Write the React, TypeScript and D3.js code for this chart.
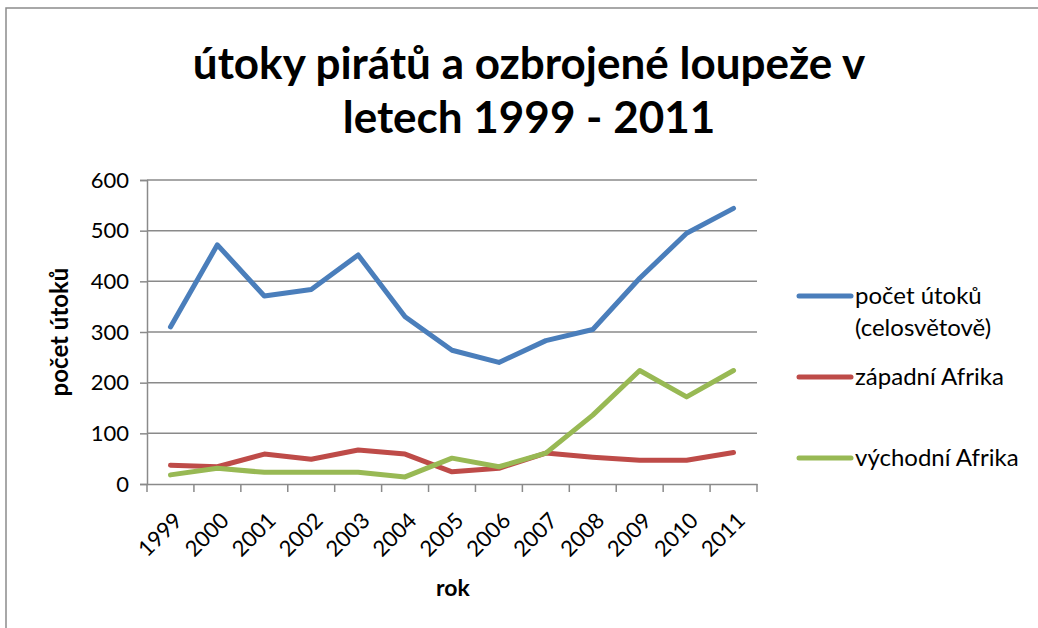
import React, { useEffect, useRef } from "react";
import * as d3 from "d3";

const years = ["1999", "2000", "2001", "2002", "2003", "2004", "2005", "2006", "2007", "2008", "2009", "2010", "2011"];
const utokyCelkem = [310, 472, 371, 384, 452, 330, 264, 240, 283, 305, 406, 495, 544];
const zapadniAfrika = [37, 34, 59, 49, 67, 59, 24, 31, 61, 53, 47, 47, 62];
const vychodniAfrika = [18, 31, 23, 23, 23, 14, 51, 34, 61, 136, 224, 172, 224];
const yTicks = [0, 100, 200, 300, 400, 500, 600];
const seriesNames = [["počet útoků", "(celosvětově)"], ["západní Afrika"], ["východní Afrika"]];
const seriesColors = ["#4a7ebb", "#be4b48", "#98b954"];

const font = "Lato, 'Open Sans', sans-serif";

export default function App() {
  const ref = useRef<SVGSVGElement>(null);
  const width = 1038;
  const height = 628;
  const left = 147;
  const right = 757;
  const top = 180;
  const bottom = 484;

  useEffect(() => {
    const svg = d3.select(ref.current);
    svg.selectAll("*").remove();

    const x = d3.scaleBand().domain(years).range([left, right]);
    const y = d3.scaleLinear().domain([0, 600]).range([bottom, top]);

    // frame
    svg.append("path")
      .attr("d", `M6,628 V8 H1038`)
      .attr("fill", "none")
      .attr("stroke", "#8c8c8c")
      .attr("stroke-width", 1.5);

    // title
    const title = svg.append("text")
      .attr("text-anchor", "middle")
      .attr("font-family", font)
      .attr("font-weight", "bold")
      .attr("font-size", 44)
      .attr("fill", "#000");
    title.append("tspan").attr("x", 529).attr("y", 79).text("útoky pirátů a ozbrojené loupeže v");
    title.append("tspan").attr("x", 529).attr("y", 133).text("letech 1999 - 2011");

    // grid
    svg.append("g")
      .selectAll("line")
      .data(yTicks.filter((d) => d > 0))
      .join("line")
      .attr("x1", left)
      .attr("x2", right)
      .attr("y1", (d) => y(d))
      .attr("y2", (d) => y(d))
      .attr("stroke", "#8a8a8a")
      .attr("stroke-width", 1.5);

    // y axis
    const yAxis = svg.append("g")
      .attr("transform", `translate(${left},0)`)
      .call(d3.axisLeft(y).tickValues(yTicks).tickSize(7).tickPadding(11));
    yAxis.select(".domain").attr("stroke", "#8a8a8a").attr("stroke-width", 1.5);
    yAxis.selectAll(".tick line").attr("stroke", "#8a8a8a").attr("stroke-width", 1.5);
    yAxis.selectAll(".tick text")
      .attr("font-family", font)
      .attr("font-size", 22)
      .attr("fill", "#000");

    // x axis
    const xAxis = svg.append("g")
      .attr("transform", `translate(0,${bottom})`)
      .call(d3.axisBottom(x).tickSize(0).tickFormat(() => ""));
    xAxis.select(".domain").attr("stroke", "#8a8a8a").attr("stroke-width", 1.5);
    xAxis.selectAll(".tick").remove();
    const edges = years.map((d) => x(d) as number).concat([right]);
    xAxis.selectAll("line.edge")
      .data(edges)
      .join("line")
      .attr("class", "edge")
      .attr("x1", (d) => d)
      .attr("x2", (d) => d)
      .attr("y1", 0)
      .attr("y2", 8)
      .attr("stroke", "#8a8a8a")
      .attr("stroke-width", 1.5);
    xAxis.selectAll("text.lbl")
      .data(years)
      .join("text")
      .attr("class", "lbl")
      .attr("transform", (d) => `translate(${(x(d) as number) + x.bandwidth() / 2 + 13},${38}) rotate(-45)`)
      .attr("text-anchor", "end")
      .attr("font-family", font)
      .attr("font-size", 22)
      .attr("fill", "#000")
      .text((d) => d);

    // axis titles
    svg.append("text")
      .attr("x", 453)
      .attr("y", 596)
      .attr("text-anchor", "middle")
      .attr("font-family", font)
      .attr("font-weight", "bold")
      .attr("font-size", 23)
      .text("rok");
    svg.append("text")
      .attr("transform", `translate(68,332) rotate(-90)`)
      .attr("text-anchor", "middle")
      .attr("font-family", font)
      .attr("font-weight", "bold")
      .attr("font-size", 24)
      .text("počet útoků");

    // lines
    const line = d3.line<number>()
      .x((_, i) => (x(years[i]) as number) + x.bandwidth() / 2)
      .y((d) => y(d));
    [utokyCelkem, zapadniAfrika, vychodniAfrika].forEach((data, i) => {
      svg.append("path")
        .attr("d", line(data))
        .attr("fill", "none")
        .attr("stroke", seriesColors[i])
        .attr("stroke-width", 5)
        .attr("stroke-linejoin", "round")
        .attr("stroke-linecap", "round");
    });

    // legend
    const legendY = [296, 377, 458];
    seriesNames.forEach((names, i) => {
      const g = svg.append("g").attr("transform", `translate(799,${legendY[i]})`);
      g.append("line")
        .attr("x1", 0)
        .attr("x2", 52)
        .attr("stroke", seriesColors[i])
        .attr("stroke-width", 5)
        .attr("stroke-linecap", "round");
      names.forEach((n, j) => {
        g.append("text")
          .attr("x", 56)
          .attr("y", j * 32)
          .attr("dy", "0.32em")
          .attr("font-family", font)
          .attr("font-size", 24)
          .attr("fill", "#000")
          .text(n);
      });
    });
  }, []);

  return (
    <div style={{ position: "fixed", left: 0, top: 0 }}>
      <svg ref={ref} width={width} height={height} style={{ display: "block", background: "#fff" }}></svg>
    </div>
  );
}
